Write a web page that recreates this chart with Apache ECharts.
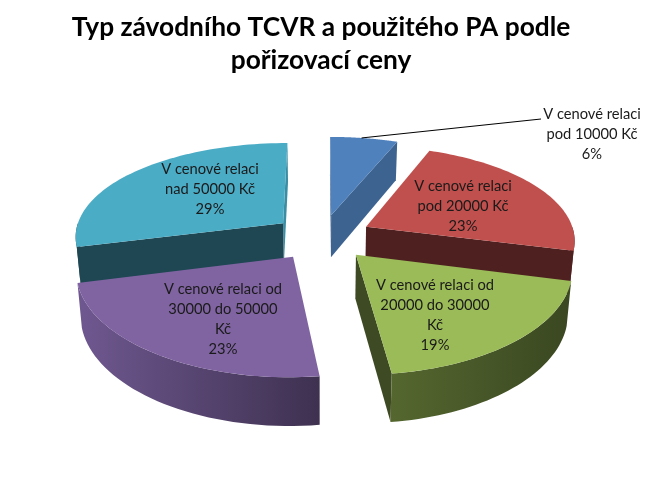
<!DOCTYPE html>
<html lang="cs">
<head>
<meta charset="utf-8">
<title>Typ závodního TCVR</title>
<script src="https://cdn.jsdelivr.net/npm/echarts@6/dist/echarts.min.js"></script>
<style>
  html, body { margin: 0; padding: 0; background: #fff; }
  #chart { width: 645px; height: 489px; }
</style>
</head>
<body>
<div id="chart"></div>
<script>
// data, clockwise from 12 o'clock
var categories = [
  'V cenové relaci\npod 10000 Kč',
  'V cenové relaci\npod 20000 Kč',
  'V cenové relaci od\n20000 do 30000\nKč',
  'V cenové relaci od\n30000 do 50000\nKč',
  'V cenové relaci\nnad 50000 Kč'
];
var values = [6, 23, 19, 23, 29];

var topColors = ['#4F81BD', '#C0504D', '#9BBB59', '#8064A2', '#4BACC6'];
var wallColors = ['#3D6390', '#4E2120', '#3D4A23', '#4C3B62', '#1E4753'];
var endWallColors = ['#3D6390', '#4E2120', '#3D4A23', '#4C3B62', '#3A8DA3'];
var rimLeft = ['#3D6390', '#4E2120', '#55672F', '#6F5890', '#1E4753'];
var rimRight = ['#3D6390', '#4E2120', '#3A4721', '#3E3150', '#1E4753'];
var labelX = [592, 463, 435, 223, 210];
var labelY = [134, 206, 315, 319, 189];
var drawOrder = [0, 4, 1, 3, 2];

// fake 3d projection of the pie plane
var cx = 322, cy = 237, sx = 209, sy = 96, thick = 43;
var px = 0.127, py = 0.15, pz = 0.098, shrink = 0.018, explode = 0.24;

function project(x, y, z) {
  return [
    cx + x * sx / (1 + px * y) * (1 - shrink * z),
    cy - y * sy / (1 + py * y) + thick * z / (1 + pz * y)
  ];
}

var total = values.reduce(function (a, b) { return a + b; }, 0);
var rad = Math.PI / 180;

function sliceAngles(i) {
  var before = 0;
  for (var k = 0; k < i; k++) before += values[k];
  return [before / total * 360, (before + values[i]) / total * 360];
}

function rimPoint(i, deg, z) {
  var a = sliceAngles(i), mid = (a[0] + a[1]) / 2 * rad;
  var ox = explode * Math.sin(mid), oy = explode * Math.cos(mid);
  return project(ox + Math.sin(deg * rad), oy + Math.cos(deg * rad), z);
}

function apexPoint(i, z) {
  var a = sliceAngles(i), mid = (a[0] + a[1]) / 2 * rad;
  return project(explode * Math.sin(mid), explode * Math.cos(mid), z);
}

function wallVisible(p, a, b) {
  var ax = a[0] - p[0], ay = a[1] - p[1];
  var side = ax * (b[1] - p[1]) - ay * (b[0] - p[0]);
  return side * ax < 0;
}

function renderSlice(params, api) {
  var i = api.value(0);
  var ang = sliceAngles(i);
  var children = [];
  var apex = apexPoint(i, 0), apexLow = apexPoint(i, 1);
  var startTop = rimPoint(i, ang[0], 0), endTop = rimPoint(i, ang[1], 0);

  function wall(deg, color) {
    return {
      type: 'polygon',
      shape: { points: [apex, rimPoint(i, deg, 0), rimPoint(i, deg, 1), apexLow] },
      style: { fill: color }
    };
  }
  if (wallVisible(apex, endTop, startTop)) children.push(wall(ang[1], endWallColors[i]));
  if (wallVisible(apex, startTop, endTop)) children.push(wall(ang[0], wallColors[i]));

  // outer rim, only the part turned to the viewer
  var from = Math.max(ang[0], 90), to = Math.min(ang[1], 270);
  if (to > from) {
    var upper = [], lower = [];
    for (var s = 0; s <= 40; s++) {
      var d = from + (to - from) * s / 40;
      upper.push(rimPoint(i, d, 0));
      lower.unshift(rimPoint(i, d, 1));
    }
    children.push({
      type: 'polygon',
      shape: { points: upper.concat(lower) },
      style: {
        fill: {
          type: 'linear', x: 0, y: 0, x2: 1, y2: 0,
          colorStops: [
            { offset: 0, color: rimLeft[i] },
            { offset: 1, color: rimRight[i] }
          ]
        }
      }
    });
  }

  var face = [apex];
  for (var t = 0; t <= 60; t++) {
    face.push(rimPoint(i, ang[0] + (ang[1] - ang[0]) * t / 60, 0));
  }
  children.push({ type: 'polygon', shape: { points: face }, style: { fill: topColors[i] } });

  return { type: 'group', children: children };
}

var labelFont = '14.7px Lato, sans-serif';
var labels = categories.map(function (name, i) {
  return {
    type: 'text',
    z: 20,
    style: {
      x: labelX[i],
      y: labelY[i],
      text: name + '\n' + values[i] + '%',
      fill: '#1a1a1a',
      font: labelFont,
      lineHeight: 20,
      align: 'center',
      verticalAlign: 'middle'
    }
  };
});

// leader line of the small slice
var leaderStart = rimPoint(0, sliceAngles(0)[0] + 10, 0);
labels.push({
  type: 'line',
  z: 20,
  shape: { x1: leaderStart[0], y1: leaderStart[1], x2: 541, y2: 119 },
  style: { stroke: '#000', lineWidth: 1 }
});

var chart = echarts.init(document.getElementById('chart'));
chart.setOption({
  animation: false,
  backgroundColor: '#fff',
  title: {
    text: 'Typ závodního TCVR a použitého PA podle\npořizovací ceny',
    left: 316,
    top: 6,
    textAlign: 'center',
    textStyle: {
      fontFamily: 'Lato, sans-serif',
      fontSize: 26.3,
      fontWeight: 'bold',
      color: '#000',
      lineHeight: 33
    }
  },
  graphic: labels,
  series: [{
    type: 'custom',
    coordinateSystem: 'none',
    renderItem: renderSlice,
    data: drawOrder.map(function (i) { return [i, values[i]]; })
  }]
});
</script>
</body>
</html>
